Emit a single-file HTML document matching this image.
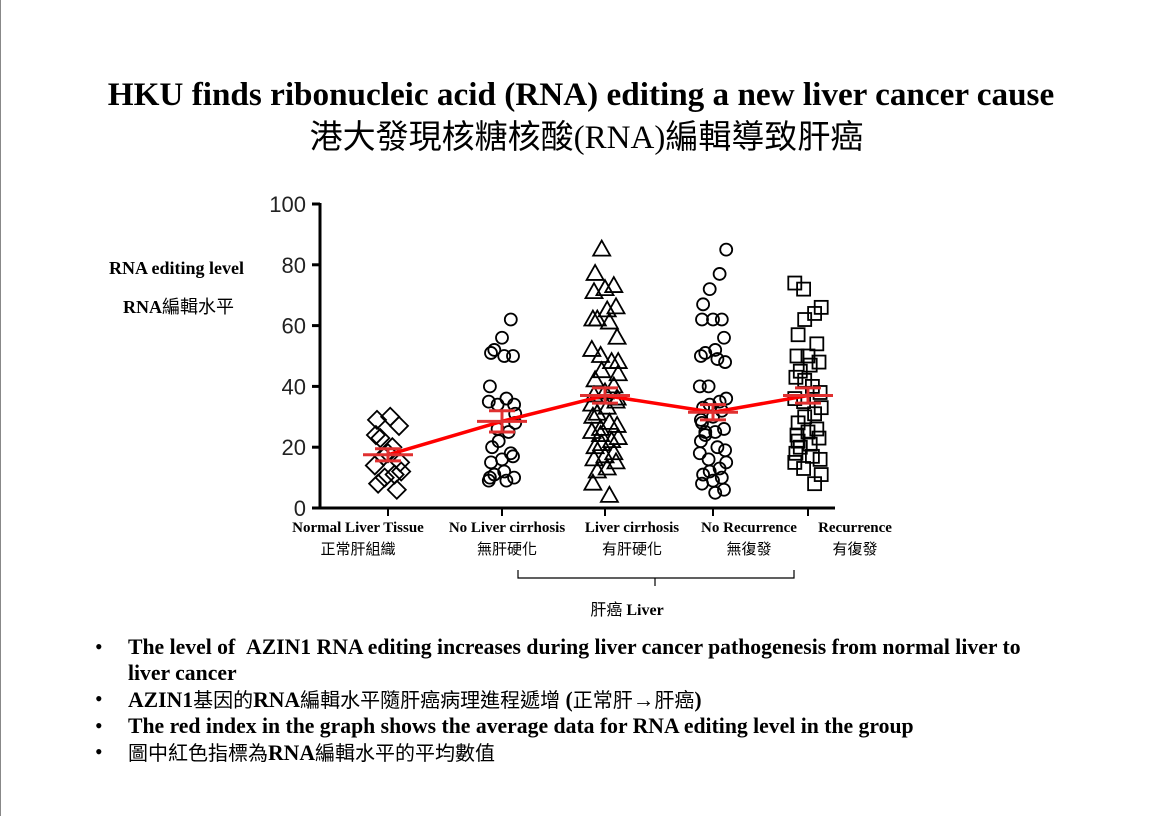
<!DOCTYPE html>
<html><head><meta charset="utf-8"><style>
body{margin:0;background:#fff;width:1160px;height:816px;overflow:hidden;position:relative;font-family:"Liberation Serif","Noto Serif CJK SC",serif;}
.t1{position:absolute;top:76px;left:0;width:1162px;text-align:center;font-weight:bold;font-size:33.2px;}
.t2{position:absolute;top:110px;left:0;width:1173px;text-align:center;font-size:33px;font-family:"Liberation Serif","Noto Sans CJK TC",serif;}
.lab{position:absolute;font-size:18px;font-weight:bold;}
ul{position:absolute;top:634px;left:95px;margin:0;padding:0;list-style:none;font-size:21.7px;font-weight:bold;width:960px;}
li{position:relative;padding-left:33px;line-height:26px;}
li:before{content:"•";position:absolute;left:0;font-weight:normal;}
.c{font-family:"Noto Sans CJK TC",sans-serif;font-weight:normal;font-size:20px;}
</style></head><body>
<div style="position:absolute;left:0;top:0;width:1px;height:816px;background:#888"></div>
<div class="t1">HKU finds ribonucleic acid (RNA) editing a new liver cancer cause</div>
<div class="t2">港大發現核糖核酸(RNA)編輯導致肝癌</div>
<div class="lab" style="left:109px;top:258px">RNA editing level</div>
<div class="lab" style="left:123px;top:293px">RNA<span class="c" style="font-size:18px">編輯水平</span></div>
<svg id="s" width="1160" height="816" style="position:absolute;left:0;top:0" font-family="Liberation Sans,sans-serif"></svg>
<ul>
<li>The level of &nbsp;AZIN1 RNA editing increases during liver cancer pathogenesis from normal liver to liver cancer</li>
<li>AZIN1<span class="c">基因的</span>RNA<span class="c">編輯水平隨肝癌病理進程遞增</span> (<span class="c">正常肝</span>→<span class="c">肝癌</span>)</li>
<li>The red index in the graph shows the average data for RNA editing level in the group</li>
<li><span class="c">圖中紅色指標為</span>RNA<span class="c">編輯水平的平均數值</span></li>
</ul>
<script>
var s=document.getElementById('s'),h='';
function Y(v){return 508-v*3.04;}
h+='<line x1="320" y1="203" x2="320" y2="509" stroke="#000" stroke-width="3"/>';
h+='<line x1="319" y1="508" x2="835" y2="508" stroke="#000" stroke-width="3"/>';
for(var v=0;v<=100;v+=20){h+='<line x1="312" y1="'+Y(v)+'" x2="320" y2="'+Y(v)+'" stroke="#000" stroke-width="3"/>';
h+='<text x="306" y="'+(Y(v)+8)+'" font-size="22" text-anchor="end" fill="#222">'+v+'</text>';}
var X=[388,502,605,713,808];
X.forEach(function(x){h+='<line x1="'+x+'" y1="508" x2="'+x+'" y2="516" stroke="#000" stroke-width="2"/>';});
var D=[[29,27,30,23,24,20,15,14,17,12,11,10,8,6,18],
[62,56,51,50,50,52,40,36,34,35,34,31,25,22,20,18,16,15,17,12,11,10,9,10,9,26,28],
[85,77,73,72,71,66,65,62,62,61,56,52,50,48,48,45,42,40,38,37,35,33,31,30,28,27,25,24,23,22,21,20,18,17,16,15,13,12,8,4,36,34,26,44],
[85,77,72,67,62,62,62,56,52,51,50,49,48,40,40,36,35,34,33,32,30,28,26,25,25,22,20,19,18,16,15,13,12,11,10,9,8,6,5,24,29],
[74,72,66,64,62,57,54,50,50,48,47,45,43,40,38,36,35,33,31,30,28,26,25,24,23,21,20,18,17,16,15,13,11,8,42,22]];
var J=[-10,8,-3,12,-12,4,-7,10,0,-9,6,-4,11,-11,2];
D.forEach(function(g,i){g.forEach(function(v,k){var x=X[i]+J[(k*7+i)%15]*1.1,y=Y(v);
if(i==0)h+='<polygon points="'+x+','+(y-9)+' '+(x+9)+','+y+' '+x+','+(y+9)+' '+(x-9)+','+y+'" fill="none" stroke="#000" stroke-width="1.8"/>';
else if(i==1||i==3)h+='<circle cx="'+x+'" cy="'+y+'" r="6" fill="none" stroke="#000" stroke-width="1.8"/>';
else if(i==2)h+='<polygon points="'+x+','+(y-9)+' '+(x+8.5)+','+(y+6)+' '+(x-8.5)+','+(y+6)+'" fill="none" stroke="#000" stroke-width="1.8"/>';
else h+='<rect x="'+(x-6.5)+'" y="'+(y-6.5)+'" width="13" height="13" fill="none" stroke="#000" stroke-width="1.8"/>';});});
var M=[17.5,28.5,37,31.5,37],E=[2,3.5,2.5,2.5,2.5];
var p=M.map(function(m,i){return X[i]+','+Y(m);}).join(' ');
h+='<polyline points="'+p+'" fill="none" stroke="#f00" stroke-width="3.5"/>';
M.forEach(function(m,i){var x=X[i];h+='<g stroke="#e03030" stroke-width="3"><line x1="'+(x-25)+'" y1="'+Y(m)+'" x2="'+(x+25)+'" y2="'+Y(m)+'"/><line x1="'+x+'" y1="'+Y(m+E[i])+'" x2="'+x+'" y2="'+Y(m-E[i])+'"/><line x1="'+(x-13)+'" y1="'+Y(m+E[i])+'" x2="'+(x+13)+'" y2="'+Y(m+E[i])+'"/><line x1="'+(x-13)+'" y1="'+Y(m-E[i])+'" x2="'+(x+13)+'" y2="'+Y(m-E[i])+'"/></g>';});
var L=[["Normal Liver Tissue","正常肝組織",358],["No Liver cirrhosis","無肝硬化",507],["Liver cirrhosis","有肝硬化",632],["No Recurrence","無復發",749],["Recurrence","有復發",855]];
L.forEach(function(l){h+='<text x="'+l[2]+'" y="532" font-size="15" font-weight="bold" text-anchor="middle" font-family="Liberation Serif,serif">'+l[0]+'</text><text x="'+l[2]+'" y="554" font-size="15" text-anchor="middle" font-family="Noto Sans CJK TC,sans-serif">'+l[1]+'</text>';});
h+='<path d="M518 570 v8 h276 v-8 M655 578 v8" fill="none" stroke="#000" stroke-width="1.2"/>';
h+='<text x="627" y="615" font-size="16" text-anchor="middle" font-family="Liberation Serif,serif"><tspan font-family="Noto Sans CJK TC,sans-serif">肝癌</tspan> <tspan font-weight="bold">Liver</tspan></text>';
s.innerHTML=h;
</script>
</body></html>
